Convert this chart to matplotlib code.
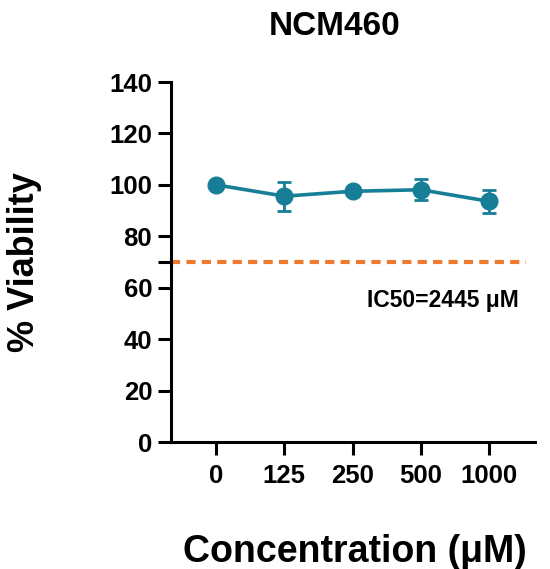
import matplotlib.pyplot as plt
import numpy as np

plt.rcParams['font.family'] = ['Liberation Sans', 'DejaVu Sans']
plt.rcParams['font.weight'] = 'bold'

concentrations = ['0', '125', '250', '500', '1000']
viability = [100.0, 95.6, 97.5, 98.1, 93.6]
viability_err = [0.0, 5.7, 0.0, 4.0, 4.4]
ic50_line = 70
ic50_label = 'IC50=2445 μM'

teal = '#177E98'
orange = '#EE7A2E'

fig = plt.figure(figsize=(5.5, 5.69), dpi=100)
ax = fig.add_axes([171 / 550, 1 - 442 / 569, 364 / 550, 360 / 569])

x = np.arange(len(concentrations))
ax.errorbar(x, viability, yerr=viability_err, color=teal, lw=2.6,
            marker='o', markersize=12, capsize=5, elinewidth=2, capthick=2,
            zorder=3)

# threshold line
ax.axhline(ic50_line, xmin=0.0, xmax=0.975, color=orange, lw=3,
           dashes=(2.2, 1.5), zorder=2)
ax.text(4.44, 52.5, ic50_label, ha='right', va='baseline', fontsize=16.5,
        fontweight='bold')

ax.set_xlim(-0.662, 4.674)
ax.set_ylim(0, 140)
ax.set_xticks(x)
ax.set_xticklabels(concentrations)
ax.set_yticks([0, 20, 40, 60, 80, 100, 120, 140])
ax.set_yticks([70], minor=True)

for s in ['top', 'right']:
    ax.spines[s].set_visible(False)
for s in ['left', 'bottom']:
    ax.spines[s].set_linewidth(2.2)

ax.tick_params(axis='both', which='major', labelsize=18.5, width=2.2,
               length=9.5, pad=4)
ax.tick_params(axis='y', which='minor', width=2.2, length=9.5)
ax.tick_params(axis='x', pad=6)
for lab in ax.get_xticklabels() + ax.get_yticklabels():
    lab.set_fontweight('bold')

ax.set_ylabel('% Viability', fontsize=26, fontweight='bold')
ax.yaxis.set_label_coords(-0.354, 0.5)

fig.text(355 / 550, 1 - 562 / 569, 'Concentration (μM)', ha='center',
         va='baseline', fontsize=27, fontweight='bold')
fig.text(335 / 550, 1 - 35 / 569, 'NCM460', ha='center', va='baseline',
         fontsize=24, fontweight='bold')

fig.savefig('out.png', dpi=100)
